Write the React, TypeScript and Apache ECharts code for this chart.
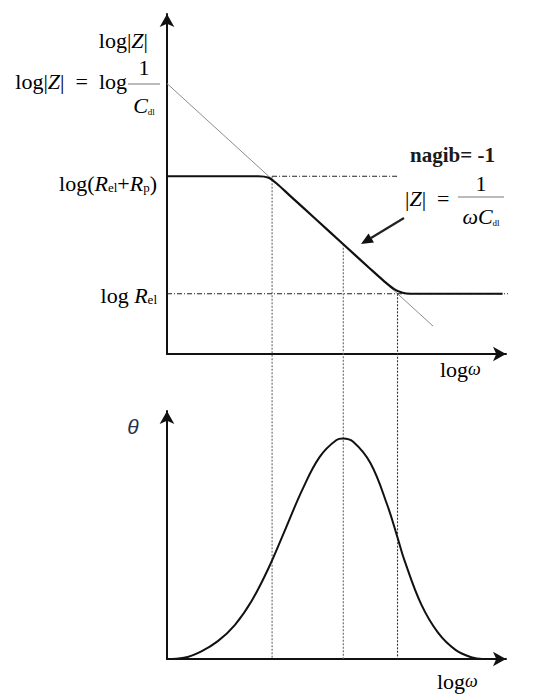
import React, { useEffect, useRef } from "react";
import * as echarts from "echarts";

// Impedance magnitude panel: log ω runs 0..10, log|Z| runs 0..11 (arbitrary units)
const logInvC = 8.75; // log(1/Cdl), where the capacitive asymptote meets the axis
const logRsum = 5.75; // log(Rel + Rp)
const logRel = 1.95; // log Rel
const relGuideEnd = 11.25;

const asymptote: [number, number][] = [
  [0, logInvC],
  [7.85, 0.9],
];

const magnitudeCurve: [number, number][] = [
  [0, 5.75], [2.7, 5.75], [3.0, 5.7], [3.25, 5.5], [3.6, 5.15], [4.4, 4.35],
  [5.2, 3.55], [6.0, 2.75], [6.4, 2.36], [6.7, 2.1], [6.95, 1.98], [7.2, 1.95],
  [9.9, 1.95],
];

// Phase angle panel: log ω runs 0..10, θ runs 0..10
const phaseCurve: [number, number][] = [
  [0, 0], [0.5, 0.05], [1.0, 0.3], [1.5, 0.72], [2.0, 1.37], [2.5, 2.35],
  [3.0, 3.68], [3.5, 5.26], [4.0, 6.85], [4.5, 8.14], [5.0, 8.83], [5.19, 8.89],
  [5.5, 8.75], [6.0, 7.9], [6.5, 6.2], [6.8, 4.9], [7.0, 4.0], [7.5, 2.2],
  [8.0, 1.05], [8.5, 0.38], [9.0, 0.06], [9.3, 0], [10, 0],
];

// Guides dropped from the |Z| curve to the phase axis
const guideOmega = [3.1, 5.2, 6.8];
const guideTop = [5.75, 3.55, 1.95];

const SERIF = "'Liberation Serif', 'Times New Roman', serif";

const axisCommon = {
  type: "value" as const,
  axisTick: { show: false },
  axisLabel: { show: false },
  splitLine: { show: false },
  axisLine: {
    onZero: false,
    symbol: ["none", "arrow"],
    symbolSize: [11, 13],
    lineStyle: { color: "#111", width: 2 },
  },
};

const rich = {
  n: { fontFamily: SERIF, fontSize: 22, color: "#1a1a1a" },
  g: { fontFamily: SERIF, fontSize: 22, color: "#555" },
  i: { fontFamily: SERIF, fontSize: 22, fontStyle: "italic", color: "#1a1a1a" },
  gi: { fontFamily: SERIF, fontSize: 22, fontStyle: "italic", color: "#555" },
  s: { fontFamily: SERIF, fontSize: 13, color: "#1a1a1a", verticalAlign: "bottom", padding: [7, 0, 0, 0] },
  gs: { fontFamily: SERIF, fontSize: 9, color: "#888", verticalAlign: "bottom", padding: [9, 0, 0, 0] },
  w: { fontFamily: SERIF, fontSize: 18, fontStyle: "italic", color: "#555" },
};

function label(x: number, y: number, text: string, align: string, extra: any = {}) {
  return {
    type: "text",
    x,
    y,
    z: 10,
    style: {
      text,
      rich,
      textAlign: align,
      textVerticalAlign: "middle",
      ...extra,
    },
  };
}

function fractionBar(x1: number, x2: number, y: number, color: string) {
  return {
    type: "line",
    z: 10,
    shape: { x1, y1: y, x2, y2: y },
    style: { stroke: color, lineWidth: 1 },
  };
}

export default function App() {
  const ref = useRef<HTMLDivElement>(null);

  useEffect(() => {
    document.body.style.margin = "0";
    if (!ref.current) return;
    const chart = echarts.init(ref.current, undefined, { renderer: "svg" });

    const staticGraphics: any[] = [
      label(148, 40, "{n|log|}{i|Z}{n||}", "right"),
      label(127, 81, "{n|log|}{i|Z}{n||  =  }{g|log}", "right"),
      label(144, 67, "{g|1}", "center"),
      fractionBar(128, 160, 84, "#777"),
      label(144, 105, "{gi|C}{gs|dl}", "center"),
      label(157, 183, "{n|log(}{i|R}{s|el}{n|+}{i|R}{s|p}{n|)}", "right"),
      label(157, 295, "{n|log }{i|R}{s|el}", "right"),
      label(410, 155, "nagib= -1", "left", {
        fontFamily: SERIF,
        fontSize: 21,
        fontWeight: "bold",
        fill: "#1a1a1a",
      }),
      label(405, 198, "{g||}{gi|Z}{g||  =}", "left"),
      label(481, 183, "{g|1}", "center"),
      fractionBar(458, 504, 197, "#777"),
      label(481, 216, "{gi|ωC}{gs|dl}", "center"),
      {
        type: "line",
        z: 10,
        shape: { x1: 404, y1: 218, x2: 371, y2: 238 },
        style: { stroke: "#222", lineWidth: 2.2 },
      },
      {
        type: "polygon",
        z: 10,
        shape: { points: [[361, 244], [374, 242.4], [368.5, 233.4]] },
        style: { fill: "#111" },
      },
      label(440, 369, "{n|log}{w|ω}", "left"),
      label(133, 426, "θ", "center", {
        fontFamily: "'Liberation Sans', Arial, sans-serif",
        fontSize: 21,
        fontStyle: "italic",
        fill: "#24324f",
      }),
      label(437, 681, "{n|log}{w|ω}", "left"),
    ];

    const option: any = {
      animation: false,
      backgroundColor: "#fff",
      grid: [
        { left: 167, right: 42, top: 14, bottom: 340 },
        { left: 167, right: 42, top: 411, bottom: 35 },
      ],
      xAxis: [
        { ...axisCommon, gridIndex: 0, min: 0, max: 10 },
        { ...axisCommon, gridIndex: 1, min: 0, max: 10 },
      ],
      yAxis: [
        { ...axisCommon, gridIndex: 0, min: 0, max: 11 },
        { ...axisCommon, gridIndex: 1, min: 0, max: 10 },
      ],
      series: [
        {
          type: "line",
          xAxisIndex: 0,
          yAxisIndex: 0,
          data: asymptote,
          symbol: "none",
          lineStyle: { color: "#8c8c8c", width: 1 },
          z: 2,
        },
        {
          type: "line",
          xAxisIndex: 0,
          yAxisIndex: 0,
          data: [
            [0, logRel],
            [relGuideEnd, logRel],
          ],
          clip: false,
          symbol: "none",
          lineStyle: { color: "#222", width: 1.2, type: [5, 2, 1, 2] },
          z: 2,
        },
        {
          type: "line",
          xAxisIndex: 0,
          yAxisIndex: 0,
          data: [
            [guideOmega[0], logRsum],
            [guideOmega[2], logRsum],
          ],
          symbol: "none",
          lineStyle: { color: "#222", width: 1.2, type: [5, 2, 1, 2] },
          z: 2,
        },
        {
          type: "line",
          xAxisIndex: 0,
          yAxisIndex: 0,
          data: magnitudeCurve,
          smooth: 0.3,
          symbol: "none",
          lineStyle: { color: "#111", width: 2.2 },
          z: 4,
        },
        {
          type: "line",
          xAxisIndex: 1,
          yAxisIndex: 1,
          data: phaseCurve,
          smooth: 0.4,
          symbol: "none",
          lineStyle: { color: "#111", width: 2 },
          z: 4,
        },
      ],
      graphic: staticGraphics,
    };

    chart.setOption(option);

    // Vertical guides run through both panels, so place them via each grid's scales
    const guides = guideOmega.map((w, k) => {
      const top = chart.convertToPixel({ xAxisIndex: 0, yAxisIndex: 0 }, [w, guideTop[k]]) as number[];
      const bottom = chart.convertToPixel({ xAxisIndex: 1, yAxisIndex: 1 }, [w, 0]) as number[];
      return {
        type: "line",
        z: 1,
        shape: { x1: top[0], y1: top[1], x2: bottom[0], y2: bottom[1] },
        style: { stroke: k === 2 ? "#333" : "#666", lineWidth: 1.1, lineDash: [2, 1.5] },
      };
    });
    chart.setOption({ graphic: [...staticGraphics, ...guides] });

    return () => chart.dispose();
  }, []);

  return <div ref={ref} style={{ width: 548, height: 694 }} />;
}
